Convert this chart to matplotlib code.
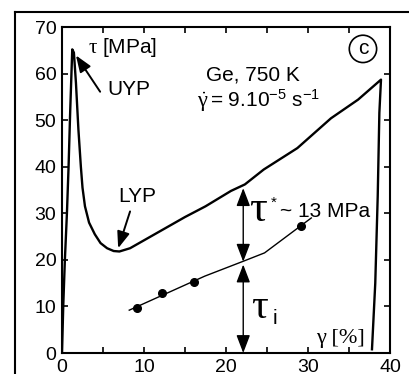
import numpy as np
import matplotlib
matplotlib.use("Agg")
import matplotlib.pyplot as plt

plt.rcParams['font.family'] = ['Liberation Sans', 'DejaVu Sans']
plt.rcParams['mathtext.fontset'] = 'custom'
plt.rcParams['mathtext.rm'] = 'Liberation Sans'
plt.rcParams['mathtext.it'] = 'Liberation Serif'

# stress-strain curve (gamma in %, tau in MPa)
strain = [0.0, 0.15, 0.35, 0.6, 0.8, 1.0, 1.25, 1.45, 1.7, 2.0, 2.3, 2.5,
          2.8, 3.3, 4.0, 4.7, 5.5, 6.3, 7.0, 8.3, 10.0, 12.5, 15.0, 17.5,
          20.6, 22.3, 24.6, 28.7, 32.8, 36.1, 38.9, 38.7, 38.5, 38.2, 37.8]
stress = [0.0, 10, 20, 30, 40, 52, 65.2, 64.5, 58, 48, 40, 35.5,
          31.5, 28, 25.5, 23.6, 22.5, 21.9, 21.8, 22.5, 24.2, 26.7, 29.2, 31.5,
          34.8, 36.2, 39.4, 44.0, 50.4, 54.4, 58.7, 51.6, 33.7, 15.0, 0.8]

# internal stress tau_i
ti_line_x = [8.2, 17.4, 22.1, 24.7, 30.4]
ti_line_y = [9.2, 16.5, 19.7, 21.5, 29.0]
ti_pts_x = [9.1, 12.2, 16.1, 29.2]
ti_pts_y = [9.6, 12.9, 15.2, 27.3]

gamma_ref = 22.1
tau_ref_top = 35.4
tau_ref_mid = 19.3

serif = ['Liberation Serif', 'DejaVu Serif']

fig = plt.figure(figsize=(4.09, 3.74), dpi=100)
ax = fig.add_axes([0.1516, 0.0561, 0.8020, 0.8717])

# outer frame (cut by the figure edges)
fig.add_artist(plt.Line2D([0.0367, 0.0367], [0.0, 0.968], color='k', lw=1.5,
                          transform=fig.transFigure))
fig.add_artist(plt.Line2D([0.0367, 1.0], [0.968, 0.968], color='k', lw=1.5,
                          transform=fig.transFigure))

ax.plot(strain, stress, color='k', lw=1.7)
ax.plot(ti_line_x, ti_line_y, color='k', lw=1.0)
ax.plot(ti_pts_x, ti_pts_y, 'o', color='k', ms=5.5)

arr = dict(arrowstyle='<|-|>,head_length=1.1,head_width=0.42', color='k', lw=1.0,
           mutation_scale=10, shrinkA=0, shrinkB=0)
ax.annotate('', xy=(gamma_ref, tau_ref_top), xytext=(gamma_ref, tau_ref_mid + 0.3),
            arrowprops=arr)
ax.annotate('', xy=(gamma_ref, 0), xytext=(gamma_ref, tau_ref_mid - 0.3),
            arrowprops=arr)

head = dict(arrowstyle='-|>,head_length=1.0,head_width=0.38', color='k', lw=1.4,
            mutation_scale=10, shrinkA=0, shrinkB=0)
ax.annotate('', xy=(1.7, 63.9), xytext=(4.65, 56.1), arrowprops=head)
ax.annotate('', xy=(6.85, 22.5), xytext=(8.3, 30.4), arrowprops=head)

ax.text(3.2, 65.7, r'$\tau$ [MPa]', fontsize=15, va='center', ha='left')
ax.text(5.5, 56.5, 'UYP', fontsize=15, va='center', ha='left')
ax.text(6.85, 33.6, 'LYP', fontsize=15, va='center', ha='left')
ax.text(17.5, 59.6, 'Ge, 750 K', fontsize=15, va='center', ha='left')
ax.text(16.5, 52.9, r'$\dot{\gamma}$', fontsize=16, va='baseline', ha='left')
ax.text(18.0, 52.9, r'= 9.10$^{-5}$ s$^{-1}$', fontsize=15, va='baseline', ha='left')
ax.text(36.7, 65.3, 'c', fontsize=15, va='center', ha='center',
        bbox=dict(boxstyle='circle,pad=0.2', fc='none', ec='k', lw=1.2))

ax.text(22.8, 28.3, 'τ', fontsize=32, family=serif, va='baseline', ha='left')
ax.text(25.4, 31.5, '*', fontsize=11, va='baseline', ha='left')
ax.text(26.6, 29.3, '~ 13 MPa', fontsize=15, va='baseline', ha='left')
ax.text(23.0, 7.6, 'τ', fontsize=30, family=serif, va='baseline', ha='left')
ax.text(25.7, 6.3, 'i', fontsize=15, va='baseline', ha='left')
ax.text(31.0, 3.2, 'γ [%]', fontsize=16, family=serif, va='center', ha='left')

ax.set_xlim(0, 40)
ax.set_ylim(0, 70)
ax.set_xticks(np.arange(0, 41, 10))
ax.set_xticks(np.arange(0, 41, 5), minor=True)
ax.set_yticks(np.arange(0, 71, 10))
ax.tick_params(which='both', direction='in', top=True, right=True, length=4.5,
               width=1.2, labelsize=14)
ax.tick_params(axis='x', pad=4)
ax.tick_params(axis='y', pad=4)
for s in ax.spines.values():
    s.set_linewidth(1.5)

fig.savefig('out.png', dpi=100)
